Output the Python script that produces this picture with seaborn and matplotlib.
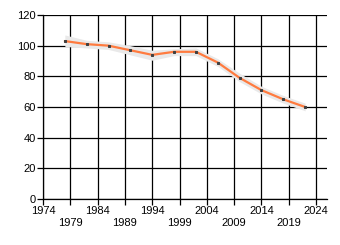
import matplotlib
matplotlib.use("Agg")
import matplotlib.pyplot as plt
import seaborn as sns
import pandas as pd

years = [1978, 1982, 1986, 1990, 1994, 1998, 2002, 2006, 2010, 2014, 2018, 2022]
values = [103, 101, 100, 97, 94, 96, 96, 89, 79, 71, 65, 60]
band_lo = [99.5, 98.5, 97.5, 94, 90.5, 93.5, 93.5, 86.5, 76.5, 68.5, 62.5, 57.5]
band_hi = [107, 103.5, 102.5, 100, 97, 98, 98.5, 91.5, 82, 73.5, 67.5, 62.5]
xtick_years = list(range(1974, 2025, 5))
ytick_vals = list(range(0, 121, 20))

sns.set_style("white")
plt.rcParams['font.family'] = ['Liberation Sans', 'DejaVu Sans']

df = pd.DataFrame({"year": years, "value": values})

fig = plt.figure(figsize=(3.4, 2.45), dpi=100)
ax = fig.add_axes([43/340, 1-199/245, (327-43)/340, (199-15)/245])

ax.fill_between(years, band_lo, band_hi, color="#e9e9e9", linewidth=0, zorder=2)
sns.lineplot(data=df, x="year", y="value", ax=ax, color="#ff7b3f", linewidth=1.6,
             marker="s", markersize=2, markerfacecolor="#404040", markeredgecolor="#404040",
             zorder=3)

ax.set_xlim(1974, 2026)
ax.set_ylim(0, 120)
ax.set_xticks(xtick_years)
ax.set_xticklabels([str(y) if i % 2 == 0 else "\n" + str(y) for i, y in enumerate(xtick_years)])
ax.set_yticks(ytick_vals)
ax.grid(True, color="black", linewidth=0.9)
ax.set_axisbelow(True)
for s in ["top", "right"]:
    ax.spines[s].set_visible(False)
for s in ["left", "bottom"]:
    ax.spines[s].set_color("black")
    ax.spines[s].set_linewidth(0.9)
ax.tick_params(axis="both", which="major", direction="out", length=4, width=0.9,
               color="black", labelsize=8, labelcolor="black", pad=1,
               bottom=True, left=True)
ax.set_xlabel("")
ax.set_ylabel("")

fig.savefig("out.png", dpi=100)
